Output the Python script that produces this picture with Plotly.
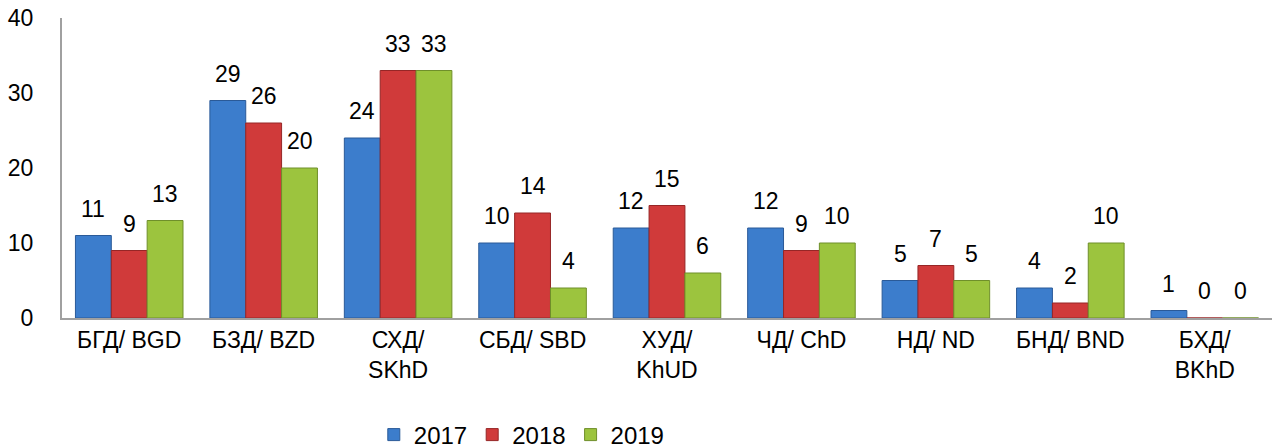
import plotly.graph_objects as go

categories = ["БГД/ BGD", "БЗД/ BZD", "СХД/<br>SKhD", "СБД/ SBD", "ХУД/<br>KhUD",
              "ЧД/ ChD", "НД/ ND", "БНД/ BND", "БХД/<br>BKhD"]
series_names = ["2017", "2018", "2019"]
v2017 = [11, 29, 24, 10, 12, 12, 5, 4, 1]
v2018 = [9, 26, 33, 14, 15, 9, 7, 2, 0]
v2019 = [13, 20, 33, 4, 6, 10, 5, 10, 0]
colors = ["#3c7dcc", "#d03a3a", "#9cc43e"]
line_colors = ["#2a5a98", "#962626", "#6f8f2a"]

FONT = "Liberation Sans, Arial, sans-serif"
W, H = 1278, 448
ML, MR, MT, MB = 62, 6, 18, 130
BARGAP = 0.2

fig = go.Figure()
all_vals = [v2017, v2018, v2019]
for name, vals, c, lc in zip(series_names, all_vals, colors, line_colors):
    fig.add_trace(go.Bar(
        x=categories, y=vals, name=name,
        marker=dict(color=c, line=dict(color=lc, width=1)),
        cliponaxis=False,
    ))

# value labels above bars
plot_w = W - ML - MR
bar_w = plot_w / len(categories) * (1 - BARGAP) / len(series_names)
for i, vals in enumerate(all_vals):
    for cat, v in zip(categories, vals):
        fig.add_annotation(x=cat, y=v, text=str(v), showarrow=False,
                           xshift=(i - 1) * bar_w, yshift=12, yanchor="bottom",
                           font=dict(size=23, color="black", family=FONT))

fig.update_layout(
    width=W, height=H,
    margin=dict(l=ML, r=MR, t=MT, b=MB, autoexpand=False),
    paper_bgcolor="white", plot_bgcolor="white",
    barmode="group", bargap=BARGAP, bargroupgap=0,
    font=dict(family=FONT, size=23, color="black"),
    showlegend=True,
    legend=dict(orientation="h", x=0.38, xanchor="center", y=-0.39, yanchor="middle",
                font=dict(size=24, family=FONT), traceorder="normal"),
    xaxis=dict(showline=True, linecolor="#a0a0a0", linewidth=2, ticks="",
               tickfont=dict(size=23, family=FONT), showgrid=False, automargin=False),
    yaxis=dict(range=[0, 40], dtick=10, showline=True, linecolor="#a0a0a0", linewidth=2,
               showgrid=False, zeroline=False, ticks="", ticklabelstandoff=22,
               tickfont=dict(size=23, family=FONT), automargin=False),
)

fig.write_html("out.html", config={"displayModeBar": False},
               post_script="document.body.style.margin='0';")
